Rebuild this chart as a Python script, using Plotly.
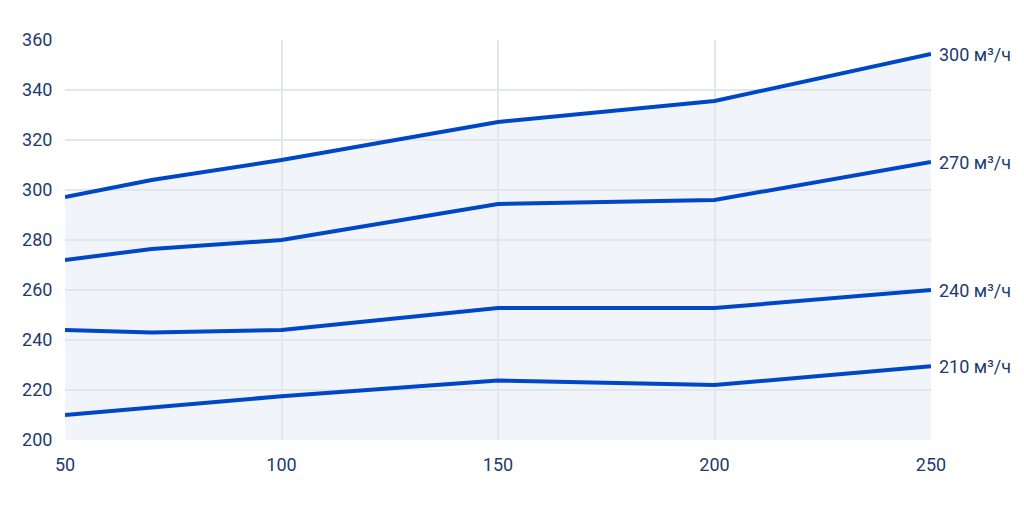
import plotly.graph_objects as go

x_vals = [50, 70, 100, 150, 200, 250]
series_names = ["300 м³/ч", "270 м³/ч", "240 м³/ч", "210 м³/ч"]
series_values = [
    [297.2, 304, 312, 327.2, 335.6, 354.4],
    [272, 276.4, 280, 294.4, 296, 311.2],
    [244, 243, 244, 252.8, 252.8, 260],
    [210, 213, 217.5, 223.8, 222, 229.5],
]

fig = go.Figure()
for i, (name, ys) in enumerate(zip(series_names, series_values)):
    fig.add_trace(go.Scatter(
        x=x_vals, y=ys, mode="lines", name=name,
        line=dict(color="#0047c8", width=4),
        fill="tozeroy" if i == 0 else None,
        fillcolor="rgba(225,233,245,0.45)",
    ))
    fig.add_annotation(x=x_vals[-1], y=ys[-1], text=name, xanchor="left",
                       xshift=6, showarrow=False,
                       font=dict(size=18, color="#1d3b6e"))

axis_common = dict(showgrid=True, gridcolor="#e3e6ea", gridwidth=1.5,
                   zeroline=False, ticks="outside", ticklen=8,
                   tickcolor="rgba(0,0,0,0)",
                   tickfont=dict(size=18, color="#1d3b6e"))
fig.update_xaxes(range=[50, 250], tickvals=[50, 100, 150, 200, 250], **axis_common)
fig.update_yaxes(range=[200, 360], dtick=20, **axis_common)
fig.update_layout(
    width=1024, height=512, showlegend=False,
    plot_bgcolor="white", paper_bgcolor="white",
    font=dict(family="Roboto"),
    margin=dict(l=57, r=101, t=32, b=80),
)
fig.write_html("out.html")
